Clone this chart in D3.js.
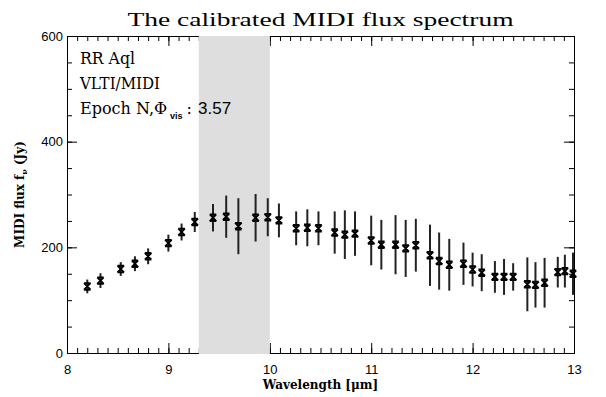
<!DOCTYPE html>
<html>
<head>
<meta charset="utf-8">
<script src="https://cdn.jsdelivr.net/npm/d3@7"></script>
<style>
  body { margin: 0; background: #fff; }
  text { fill: #000; }
</style>
</head>
<body>
<div id="chart"></div>
<script>
// Wavelength (micron), flux (Jy) and 1-sigma error
const wavelength = [8.20, 8.33, 8.53, 8.67, 8.80, 9.00, 9.13, 9.26, 9.44, 9.57,
  9.69, 9.86, 9.98, 10.09, 10.26, 10.37, 10.48, 10.64, 10.74, 10.84,
  11.00, 11.10, 11.24, 11.34, 11.44, 11.58, 11.67, 11.77, 11.91, 12.00,
  12.09, 12.22, 12.31, 12.40, 12.54, 12.62, 12.71, 12.84, 12.91, 12.99];
const flux = [126, 137, 159, 169, 183, 208, 229, 248, 256, 258,
  240, 256, 257, 251, 236, 237, 236, 228, 224, 226,
  213, 205, 205, 198, 204, 185, 174, 167, 169, 158,
  152, 144, 144, 144, 130, 129, 133, 153, 155, 150];
const fluxErr = [13, 14, 13, 14, 15, 16, 16, 19, 26, 40,
  53, 45, 36, 32, 32, 35, 32, 40, 46, 42,
  47, 47, 56, 54, 50, 58, 54, 49, 40, 32,
  35, 30, 34, 26, 51, 43, 47, 29, 31, 40];

const xTicks = [8, 9, 10, 11, 12, 13];
const yTicks = [0, 200, 400, 600];
const band = [9.3, 10.0]; // shaded region

const containerWidth = 606;
const containerHeight = 397;
const margin = { top: 36, right: 32, bottom: 44, left: 67 };
const width = containerWidth - margin.left - margin.right;
const height = containerHeight - margin.top - margin.bottom;

const svg = d3.select("#chart")
  .append("svg")
  .attr("width", containerWidth)
  .attr("height", containerHeight)
  .append("g")
  .attr("transform", `translate(${margin.left},${margin.top})`);

const x = d3.scaleLinear().domain([8, 13]).range([0, width]);
const y = d3.scaleLinear().domain([0, 600]).range([height, 0]);

const tickFont = "'Liberation Sans', Arial, sans-serif";
const serif = "'DejaVu Serif', serif";

// minor ticks (every 0.1 micron / 50 Jy), on all four sides
const xMinor = d3.range(80, 131).map((d) => d / 10);
const yMinor = d3.range(0, 601, 50);

function styleAxis(g) {
  g.selectAll("path").attr("stroke", "#000").attr("stroke-width", 1);
  g.selectAll("line").attr("stroke", "#000").attr("stroke-width", 1);
  g.selectAll("text")
    .style("font-family", tickFont)
    .style("font-size", "13px");
}

svg.append("g")
  .attr("transform", `translate(0,${height})`)
  .call(d3.axisBottom(x).tickValues(xMinor).tickSize(-5).tickFormat(""))
  .call(styleAxis);
svg.append("g")
  .call(d3.axisTop(x).tickValues(xMinor).tickSize(-5).tickFormat(""))
  .call(styleAxis);
svg.append("g")
  .call(d3.axisLeft(y).tickValues(yMinor).tickSize(-5).tickFormat(""))
  .call(styleAxis);
svg.append("g")
  .attr("transform", `translate(${width},0)`)
  .call(d3.axisRight(y).tickValues(yMinor).tickSize(-5).tickFormat(""))
  .call(styleAxis);

// major ticks with labels
svg.append("g")
  .attr("transform", `translate(0,${height})`)
  .call(d3.axisBottom(x).tickValues(xTicks).tickSize(-10).tickPadding(12).tickFormat(d3.format("d")))
  .call(styleAxis);
svg.append("g")
  .call(d3.axisTop(x).tickValues(xTicks).tickSize(-10).tickFormat(""))
  .call(styleAxis);
svg.append("g")
  .call(d3.axisLeft(y).tickValues(yTicks).tickSize(-10).tickPadding(4).tickFormat(d3.format("d")))
  .call(styleAxis);
svg.append("g")
  .attr("transform", `translate(${width},0)`)
  .call(d3.axisRight(y).tickValues(yTicks).tickSize(-10).tickFormat(""))
  .call(styleAxis);

// shaded band drawn over the frame like the original
svg.append("rect")
  .attr("x", x(band[0]))
  .attr("y", y(600))
  .attr("width", x(band[1]) - x(band[0]))
  .attr("height", y(0) - y(600) + 1)
  .attr("fill", "#dedede");

// error bars
const points = wavelength.map((w, i) => ({ w, f: flux[i], e: fluxErr[i] }));

svg.append("g")
  .selectAll("line")
  .data(points)
  .join("line")
  .attr("x1", (d) => x(d.w))
  .attr("x2", (d) => x(d.w))
  .attr("y1", (d) => y(d.f - d.e))
  .attr("y2", (d) => y(d.f + d.e))
  .attr("stroke", "#222")
  .attr("stroke-width", 2);

// hourglass-like asterisk markers
const s = 3.3;
svg.append("g")
  .selectAll("path")
  .data(points)
  .join("path")
  .attr("d", (d) => {
    const cx = x(d.w), cy = y(d.f);
    return `M${cx - s},${cy - s}L${cx + s},${cy + s}M${cx + s},${cy - s}L${cx - s},${cy + s}` +
      `M${cx - s},${cy - s}L${cx + s},${cy - s}M${cx - s},${cy + s}L${cx + s},${cy + s}`;
  })
  .attr("fill", "none")
  .attr("stroke", "#000")
  .attr("stroke-width", 1.8);

// title
svg.append("text")
  .attr("x", width / 2)
  .attr("y", -10)
  .attr("text-anchor", "middle")
  .attr("textLength", 386)
  .attr("lengthAdjust", "spacingAndGlyphs")
  .style("font-family", "'Liberation Serif', serif")
  .style("font-size", "18px")
  .text("The calibrated MIDI flux spectrum");

// annotation
const note = svg.append("g")
  .style("font-family", serif)
  .style("font-size", "16px");
note.append("text").attr("x", 13).attr("y", 28)
  .attr("textLength", 55).attr("lengthAdjust", "spacingAndGlyphs")
  .text("RR Aql");
note.append("text").attr("x", 13).attr("y", 53)
  .attr("textLength", 80).attr("lengthAdjust", "spacingAndGlyphs")
  .text("VLTI/MIDI");
const epoch = note.append("text").attr("x", 13).attr("y", 78);
epoch.append("tspan").text("Epoch N,Φ");
epoch.append("tspan")
  .attr("dy", 5)
  .attr("dx", 3)
  .style("font-family", tickFont)
  .style("font-size", "9px")
  .style("font-weight", "bold")
  .text("vis");
epoch.append("tspan")
  .attr("dy", -5)
  .attr("dx", 4)
  .text(":");
epoch.append("tspan")
  .attr("dx", 6)
  .style("font-family", tickFont)
  .style("font-size", "17px")
  .text("3.57");

// axis titles
svg.append("text")
  .attr("x", width / 2)
  .attr("y", height + 36)
  .attr("text-anchor", "middle")
  .style("font-family", serif)
  .style("font-size", "12px")
  .style("font-weight", "bold")
  .text("Wavelength [μm]");

const yLabel = svg.append("text")
  .attr("transform", `translate(-43,${height / 2}) rotate(-90)`)
  .attr("text-anchor", "middle")
  .style("font-family", serif)
  .style("font-size", "12px")
  .style("font-weight", "bold");
yLabel.append("tspan").text("MIDI flux f");
yLabel.append("tspan").attr("dy", 3).style("font-size", "8px").text("ν");
yLabel.append("tspan").attr("dy", -3).text(" (Jy)");
</script>
</body>
</html>
